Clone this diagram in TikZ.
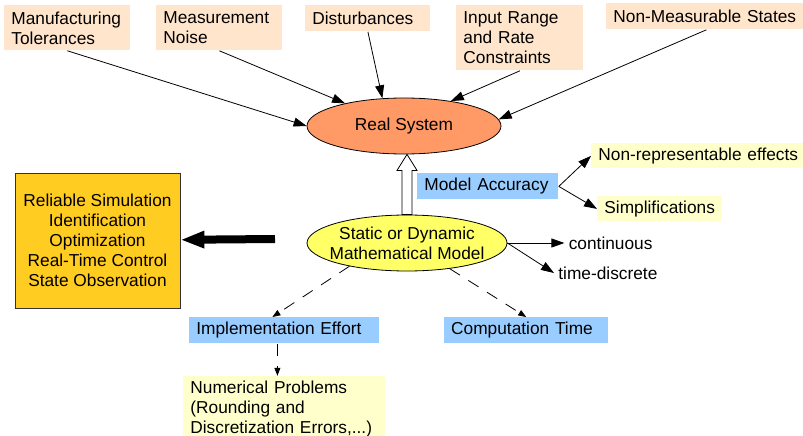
\documentclass[tikz,border=0pt]{standalone}
\usepackage{fontspec}
\setmainfont{Liberation Sans}
\usepackage{xcolor}
\usepackage{tikz}
\usetikzlibrary{positioning}
\usetikzlibrary{arrows.meta,shapes.geometric,calc}

\definecolor{peach}{HTML}{FFE5CC}
\definecolor{salmon}{HTML}{FF9966}
\definecolor{lemon}{HTML}{FFFF66}
\definecolor{skyblue}{HTML}{99CCFF}
\definecolor{paleyellow}{HTML}{FFFFCC}
\definecolor{gold}{HTML}{FFCC22}
\definecolor{darkline}{HTML}{333333}

\tikzset{
	cause/.style={fill=peach, anchor=north west, align=left, inner xsep=7pt, inner ysep=0pt},
	aspect/.style={fill=skyblue, align=left, inner xsep=7pt, inner ysep=0pt, minimum height=26pt},
	effect/.style={fill=paleyellow, align=left, inner xsep=7pt, inner ysep=0pt},
	blob/.style={ellipse, draw, minimum height=56pt},
	hint/.style={dash pattern=on 12pt off 10pt, -{Triangle[length=8pt,width=6pt]}},
}

\begin{document}
\begin{tikzpicture}[x=1pt, y=-1pt, line width=0.8pt, font=\fontsize{17.3}{20}\selectfont,
	>={Triangle[length=13pt,width=9pt]}]
	\useasboundingbox (0,0) rectangle (803,436);

	\node[cause, text width=112pt, minimum height=45pt] (manuf) at (4,5) {Manufacturing\\Tolerances};
	\node[cause, text width=112pt, minimum height=45pt] (noise) at (156,5) {Measurement\\Noise};
	\node[cause, text width=111pt, minimum height=26pt] (dist) at (305,5) {Disturbances};
	\node[cause, text width=113pt, minimum height=65pt] (inrange) at (456,5) {Input Range\\and Rate\\Constraints};
	\node[cause, text width=186pt, minimum height=26pt] (nonmeas) at (606,3) {Non-Measurable States};

	\node[blob, fill=salmon, minimum width=194pt] (real) at (404,126) {Real System};
	\node[blob, fill=lemon, minimum width=200pt,
		label={[align=center]center:Static or Dynamic\\Mathematical Model}] (model) at (407,243) {};

	\node[aspect, text width=127pt, anchor=north west] (acc) at (417,173) {Model Accuracy};
	\node[effect, text width=200pt, minimum height=25pt, anchor=north west] (nonrep) at (591,143) {Non-representable effects};
	\node[effect, text width=111pt, minimum height=25pt, anchor=north west] (simpl) at (597,196) {Simplifications};

	\node[inner sep=4pt] (cont) [right = 57pt of model.east] {continuous};
	\node[inner sep=4pt, anchor=west] (tdisc) at (554,273) {time-discrete};

	\node[draw=darkline, fill=gold, minimum width=165pt, minimum height=135pt, align=center] (uses) at (97.5,240.5)
		{Reliable Simulation\\Identification\\Optimization\\Real-Time Control\\State Observation};
	\coordinate (feed) at (275,239);

	\node[aspect, text width=176pt, anchor=north west] (impl) at (189,317) {Implementation Effort};
	\node[aspect, text width=150pt] (comp) [right = 64pt of impl] {Computation Time};
	\node[effect, text width=188pt, minimum height=66pt] (numer) [below = 32pt of impl] {Numerical Problems\\(Rounding and\\Discretization Errors,...)};

	% influences on the real system
	\draw[->] (manuf.south) -- (real.west);
	\draw[->] (noise.south) -- (real.159);
	\draw[->] (dist.south) -- (real.128);
	\draw[->] (inrange.south) -- (real.28);
	\draw[->] (nonmeas.south) -- (real.4);

	% model approximates the system
	\coordinate (tip) at (model.north |- real.south);
	\draw[fill=white] ($(model.north)+(-5,0)$) -- ($(tip)+(-5,16)$) -- ($(tip)+(-10,16)$) -- (tip)
		-- ($(tip)+(10,16)$) -- ($(tip)+(5,16)$) -- ($(model.north)+(5,0)$) -- cycle;

	\draw[->] (acc.east) -- (nonrep.west);
	\draw[->] (acc.east) -- (simpl.west);
	\draw[->] (model.east) -- (cont.west);
	\draw[->] (model.east) -- (tdisc.west);

	\draw[line width=8pt, -{Triangle[length=24pt,width=16pt]}] (feed) -- (uses);

	\draw[hint] (model.202) -- ($(impl.north)+(-12,0)$);
	\draw[hint] (model.329) -- (comp.north);
	\draw[hint] ([xshift=-7pt]impl.south) -- ([xshift=-7pt]numer.north);
\end{tikzpicture}
\end{document}
